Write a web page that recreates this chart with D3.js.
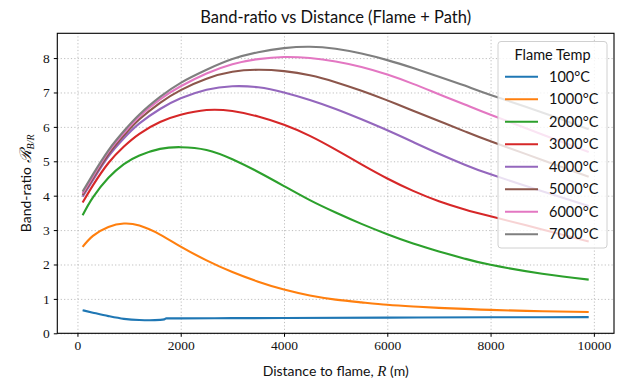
<!DOCTYPE html>
<html>
<head>
<meta charset="utf-8">
<script src="https://cdn.jsdelivr.net/npm/d3@7"></script>
<style>
  body { margin: 0; background: #fff; }
  .grid line { stroke: #b8b8b8; stroke-width: 0.9; stroke-dasharray: 1.2,2.2; }
  .grid path { display: none; }
  .axis text { font-family: "Liberation Serif", serif; font-size: 13.5px; fill: #111; }
  .axis line, .axis path { stroke: #000; }
  .line { fill: none; stroke-width: 2.1; }
</style>
</head>
<body>
<script>
// distances (m) shared by the upper series
var distance = [100, 300, 600, 900, 1200, 1600, 2000, 2500, 3000, 3500, 4000, 4500, 5000, 5500, 6000, 6500, 7000, 7500, 8000, 9000, 9900];

// the 100 C curve has a small step near 1700 m, so it has its own sampling
var distance100 = [100, 300, 600, 900, 1200, 1400, 1600, 1680, 1720, 2000, 3000, 4000, 6000, 8000, 9900];
var ratio100  = [0.67, 0.60, 0.50, 0.42, 0.385, 0.38, 0.39, 0.405, 0.435, 0.435, 0.44, 0.445, 0.455, 0.465, 0.47];

var ratio1000 = [2.51, 2.83, 3.09, 3.19, 3.13, 2.87, 2.52, 2.12, 1.78, 1.50, 1.27, 1.10, 0.98, 0.90, 0.83, 0.78, 0.74, 0.71, 0.68, 0.64, 0.62];
var ratio2000 = [3.43, 3.95, 4.52, 4.92, 5.17, 5.36, 5.41, 5.33, 5.06, 4.69, 4.28, 3.87, 3.51, 3.18, 2.88, 2.61, 2.38, 2.17, 1.99, 1.73, 1.56];
var ratio3000 = [3.80, 4.30, 4.95, 5.43, 5.80, 6.14, 6.35, 6.49, 6.46, 6.30, 6.06, 5.74, 5.34, 4.91, 4.50, 4.14, 3.84, 3.60, 3.40, 3.02, 2.67];
var ratio4000 = [3.97, 4.45, 5.14, 5.67, 6.10, 6.52, 6.83, 7.08, 7.18, 7.15, 7.00, 6.78, 6.52, 6.22, 5.90, 5.56, 5.22, 4.90, 4.62, 4.13, 3.70];
var ratio5000 = [4.02, 4.50, 5.20, 5.75, 6.22, 6.70, 7.07, 7.40, 7.60, 7.66, 7.62, 7.50, 7.30, 7.05, 6.77, 6.47, 6.17, 5.87, 5.58, 5.04, 4.55];
var ratio6000 = [4.07, 4.56, 5.27, 5.82, 6.30, 6.80, 7.18, 7.55, 7.82, 7.97, 8.03, 8.00, 7.90, 7.74, 7.52, 7.25, 6.95, 6.65, 6.35, 5.78, 5.27];
var ratio7000 = [4.12, 4.62, 5.32, 5.88, 6.36, 6.87, 7.28, 7.66, 7.97, 8.17, 8.29, 8.33, 8.27, 8.13, 7.94, 7.71, 7.46, 7.20, 6.93, 6.42, 5.93];

var tempLabels = ["100°C", "1000°C", "2000°C", "3000°C", "4000°C", "5000°C", "6000°C", "7000°C"];
var colors = ["#1f77b4", "#ff7f0e", "#2ca02c", "#d62728", "#9467bd", "#8c564b", "#e377c2", "#7f7f7f"];
var xTicks = [0, 2000, 4000, 6000, 8000, 10000];
var yTicks = [0, 1, 2, 3, 4, 5, 6, 7, 8];

var allRatios = [ratio100, ratio1000, ratio2000, ratio3000, ratio4000, ratio5000, ratio6000, ratio7000];
var series = allRatios.map(function(vals, i) {
  var xs = i == 0 ? distance100 : distance;
  return {
    id: tempLabels[i],
    color: colors[i],
    values: vals.map(function(v, j) { return {r: xs[j], ratio: v}; })
  };
});

var margin = {top: 33.3, right: 7, bottom: 53.7, left: 57.3};
var svg = d3.select("body").append("svg")
    .attr("width", 621)
    .attr("height", 387);
var width = svg.attr("width") - margin.left - margin.right,
    height = svg.attr("height") - margin.top - margin.bottom,
    g = svg.append("g").attr("transform", "translate(" + margin.left + "," + margin.top + ")");

var x = d3.scaleLinear().domain([-390, 10390]).range([0, width]),
    y = d3.scaleLinear().domain([0, 8.72]).range([height, 0]);

// grid
g.append("g")
    .attr("class", "grid")
    .attr("transform", "translate(0," + height + ")")
    .call(d3.axisBottom(x).tickValues(xTicks).tickSize(-height).tickFormat(""));
g.append("g")
    .attr("class", "grid")
    .call(d3.axisLeft(y).tickValues(yTicks).tickSize(-width).tickFormat(""));

var smooth = d3.line()
    .curve(d3.curveNatural)
    .x(function(d) { return x(d.r); })
    .y(function(d) { return y(d.ratio); });
var stepped = d3.line()
    .curve(d3.curveMonotoneX)
    .x(function(d) { return x(d.r); })
    .y(function(d) { return y(d.ratio); });

g.selectAll(".line")
  .data(series)
  .enter().append("path")
    .attr("class", "line")
    .attr("d", function(d, i) { return i == 0 ? stepped(d.values) : smooth(d.values); })
    .style("stroke", function(d) { return d.color; });

// axes
g.append("g")
    .attr("class", "axis")
    .attr("transform", "translate(0," + height + ")")
    .call(d3.axisBottom(x).tickValues(xTicks).tickSize(3.5).tickPadding(4).tickFormat(d3.format("d")))
    .call(function(a) { a.select(".domain").remove(); });
g.append("g")
    .attr("class", "axis")
    .call(d3.axisLeft(y).tickValues(yTicks).tickSize(3.5).tickPadding(4).tickFormat(d3.format("d")))
    .call(function(a) { a.select(".domain").remove(); });

g.append("rect")
    .attr("width", width)
    .attr("height", height)
    .attr("fill", "none")
    .attr("stroke", "#000")
    .attr("stroke-width", 1.1);

// title + labels
svg.append("text")
    .attr("x", margin.left + width / 2)
    .attr("y", 23)
    .attr("text-anchor", "middle")
    .style("font-family", "Lato, 'Open Sans', sans-serif")
    .style("font-size", "16.5px")
    .style("fill", "#111")
    .text("Band-ratio vs Distance (Flame + Path)");

var xl = svg.append("text")
    .attr("x", margin.left + width / 2)
    .attr("y", 376)
    .attr("text-anchor", "middle")
    .style("font-family", "Lato, 'Open Sans', sans-serif")
    .style("font-size", "14px")
    .style("fill", "#111");
xl.append("tspan").text("Distance to flame, ");
xl.append("tspan").style("font-family", "'Liberation Serif', serif").style("font-style", "italic").style("font-size", "15px").text("R");
xl.append("tspan").text(" (m)");

var yl = svg.append("text")
    .attr("transform", "translate(31," + (margin.top + height / 2) + ") rotate(-90)")
    .attr("text-anchor", "middle")
    .style("font-family", "Lato, 'Open Sans', sans-serif")
    .style("font-size", "14px")
    .style("fill", "#111");
yl.append("tspan").text("Band-ratio ");
yl.append("tspan").style("font-family", "'Liberation Serif', serif").style("font-style", "italic").style("font-size", "16px").text("ℛ");
yl.append("tspan").attr("dy", 3).style("font-family", "'Liberation Serif', serif").style("font-style", "italic").style("font-size", "10px").text("B/R");

// legend
var legend = svg.append("g").attr("transform", "translate(498,41.5)");
legend.append("rect")
    .attr("width", 109)
    .attr("height", 206.5)
    .attr("rx", 3)
    .attr("fill", "#fff")
    .attr("fill-opacity", 0.8)
    .attr("stroke", "#d0d0d0")
    .attr("stroke-width", 1);
legend.append("text")
    .attr("x", 54.5)
    .attr("y", 18)
    .attr("text-anchor", "middle")
    .style("font-family", "Lato, 'Open Sans', sans-serif")
    .style("font-size", "14.5px")
    .style("fill", "#111")
    .text("Flame Temp");
var item = legend.selectAll(".item")
  .data(series)
  .enter().append("g")
    .attr("class", "item")
    .attr("transform", function(d, i) { return "translate(0," + (35.2 + i * 22.5) + ")"; });
item.append("line")
    .attr("x1", 7).attr("x2", 40)
    .attr("stroke", function(d) { return d.color; })
    .attr("stroke-width", 2.1);
item.append("text")
    .attr("x", 51)
    .attr("dy", "0.35em")
    .style("font-family", "Lato, 'Open Sans', sans-serif")
    .style("font-size", "14.5px")
    .style("fill", "#111")
    .text(function(d) { return d.id; });
</script>
</body>
</html>
